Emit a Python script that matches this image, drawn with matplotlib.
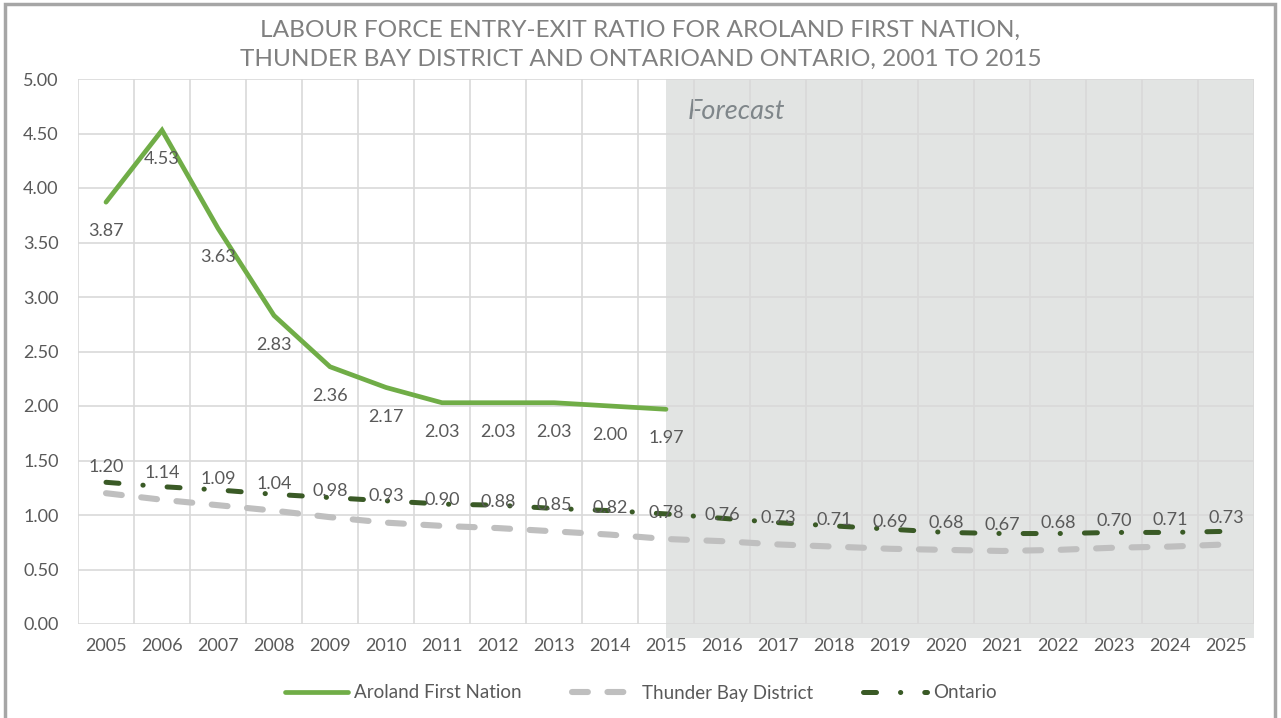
import matplotlib
matplotlib.use('Agg')
import matplotlib.pyplot as plt
from matplotlib.patches import Rectangle
import numpy as np

years = [str(y) for y in range(2005, 2026)]

aroland = [3.87, 4.53, 3.63, 2.83, 2.36, 2.17, 2.03, 2.03, 2.03, 2.00, 1.97]
thunder_bay = [1.20, 1.14, 1.09, 1.04, 0.98, 0.93, 0.90, 0.88, 0.85, 0.82, 0.78,
               0.76, 0.73, 0.71, 0.69, 0.68, 0.67, 0.68, 0.70, 0.71, 0.73]
ontario = [1.30, 1.26, 1.23, 1.19, 1.16, 1.13, 1.10, 1.09, 1.06, 1.04, 1.01,
           0.97, 0.93, 0.90, 0.87, 0.84, 0.83, 0.83, 0.84, 0.84, 0.85]

yticks = np.arange(0, 5.01, 0.5)
forecast_start = 10  # index of 2015

title = ('LABOUR FORCE ENTRY-EXIT RATIO FOR AROLAND FIRST NATION,\n'
         'THUNDER BAY DISTRICT AND ONTARIOAND ONTARIO, 2001 TO 2015')

plt.rcParams['font.family'] = ['Lato', 'DejaVu Sans']
txt = '#595959'
grid = '#d9d9d9'

fig = plt.figure(figsize=(12.81, 7.18), dpi=100)
ax = fig.add_axes([78/1281, 1-624/718, (1254-78)/1281, (624-79)/718])

x = np.arange(len(years))
ax.set_xlim(-0.5, len(years)-0.5)
ax.set_ylim(0, 5)

# Forecast shading (runs a touch below the axis, like the original)
ax.add_patch(Rectangle((forecast_start, -0.13), len(years)-0.5-forecast_start, 5.13,
                       facecolor='#e2e4e3', edgecolor='none', zorder=0, clip_on=False))
ax.text(forecast_start+0.38, 4.70, 'Forecast', style='italic', fontsize=19.5,
        color='#7f868a', va='center', ha='left', zorder=1)

# grid: horizontal at ticks, vertical at category edges
for yv in yticks:
    ax.axhline(yv, color=grid, lw=1.2, zorder=1)
for xv in np.arange(-0.5, len(years), 1.0):
    ax.axvline(xv, color=grid, lw=1.2, zorder=1)

ax.plot(x[:len(aroland)], aroland, color='#70ad47', lw=3.4, solid_capstyle='round',
        solid_joinstyle='miter', label='Aroland First Nation', zorder=4)
tb, = ax.plot(x, thunder_bay, color='#bfbfbf', lw=4.4, dash_capstyle='round',
              label='Thunder Bay District', zorder=3)
tb.set_dashes([2.6, 3.2])
on, = ax.plot(x, ontario, color='#3a5a26', lw=3.6, dash_capstyle='round',
              label='Ontario', zorder=3)
on.set_dashes([2.6, 4.8, 0.05, 4.8])

for i, v in enumerate(aroland):
    ax.annotate('%.2f' % v, (i, v), xytext=(0, -21), textcoords='offset points',
                ha='center', va='center', fontsize=13, color=txt, zorder=5)
for i, v in enumerate(thunder_bay):
    ax.annotate('%.2f' % v, (i, v), xytext=(0, 19), textcoords='offset points',
                ha='center', va='center', fontsize=13, color=txt, zorder=5)

ax.set_xticks(x)
ax.set_xticklabels(years)
ax.set_yticks(yticks)
ax.set_yticklabels(['%.2f' % v for v in yticks])
ax.tick_params(length=0, labelsize=13, labelcolor=txt)
ax.tick_params(axis='y', pad=14)
ax.tick_params(axis='x', pad=10)
for s in ax.spines.values():
    s.set_visible(False)

fig.text(0.5, 1-45/718, title, ha='center', va='center', fontsize=17.6,
         color='#808080', linespacing=1.5)

fig.legend(loc='center', bbox_to_anchor=(0.5, 1-693/718), ncol=3, frameon=False,
           fontsize=13.5, labelcolor=txt, handlelength=3.4, handletextpad=0.3,
           columnspacing=2.7)

# chart border
fig.add_artist(Rectangle((5/1281, -0.02), 1270/1281, 1.0-4/718+0.02, transform=fig.transFigure,
                         fill=False, edgecolor='#a6a6a6', lw=2.5))

fig.savefig('out.png', dpi=100)
